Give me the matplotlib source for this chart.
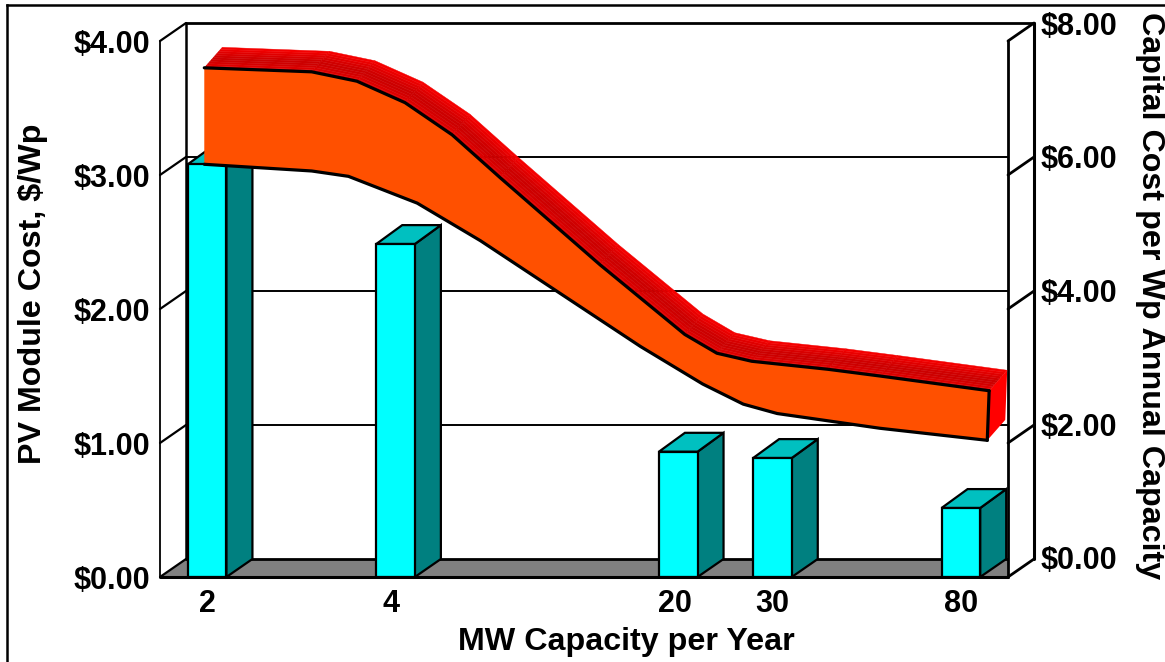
import matplotlib
matplotlib.use("Agg")
import matplotlib.pyplot as plt
from matplotlib.lines import Line2D

plt.rcParams['font.family'] = ['Liberation Sans', 'DejaVu Sans']
plt.rcParams['font.weight'] = 'bold'

W, H = 1165, 662

# nine category slots, only some of them are labelled
x_labels = ["2", "4", "20", "30", "80"]
x_label_pos = [0, 1.95, 4.97, 6, 8]
bar_pos = [0, 2, 5, 6, 8]
bar_vals = [3.08, 2.485, 0.935, 0.888, 0.515]

band_top_x = [-0.03, 1.11, 1.59, 2.10, 2.60, 3.11, 4.17, 5.07, 5.41, 5.78, 6.59, 7.14, 8.30]
band_top_y = [3.80, 3.77, 3.70, 3.54, 3.30, 2.98, 2.33, 1.81, 1.67, 1.61, 1.55, 1.50, 1.39]
band_low_x = [-0.03, 1.11, 1.50, 2.23, 2.90, 4.60, 5.26, 5.69, 6.05, 7.14, 8.28]
band_low_y = [3.08, 3.03, 2.99, 2.79, 2.51, 1.72, 1.44, 1.29, 1.22, 1.11, 1.02]

left_ticks = [0, 1, 2, 3, 4]
left_labels = ["$0.00", "$1.00", "$2.00", "$3.00", "$4.00"]
right_ticks = [0, 2, 4, 6, 8]
right_labels = ["$0.00", "$2.00", "$4.00", "$6.00", "$8.00"]

# depth of the fake 3d box, in data units
DX = 26 / 94.2
DY = 18 / 134.0
# the ribbon is not as deep as the box
RDX = 18 / 94.2
RDY = 20.5 / 134.0
BAR_W = 0.41
XMIN, XMAX = -0.5, 8.5
YMAX = 4

fig = plt.figure(figsize=(W / 100, H / 100), dpi=100)
ax = fig.add_axes([160 / W, (H - 577) / H, 848 / W, 536 / H])
ax.set_xlim(XMIN, XMAX)
ax.set_ylim(0, YMAX)
ax.patch.set_visible(False)
for s in ax.spines.values():
    s.set_visible(False)

ax.set_xticks(x_label_pos)
ax.set_xticklabels(x_labels, fontsize=22)
ax.set_yticks(left_ticks)
ax.set_yticklabels(left_labels, fontsize=22)
ax.tick_params(axis='x', length=0, pad=9)
ax.tick_params(axis='y', length=0, pad=7)

# second scale sits on the back plane of the box
ax2 = fig.add_axes([186 / W, (H - 558) / H, 848 / W, 535 / H])
ax2.set_xlim(XMIN, XMAX)
ax2.set_ylim(0, 8)
ax2.patch.set_visible(False)
for s in ax2.spines.values():
    s.set_visible(False)
ax2.set_xticks([])
ax2.yaxis.tick_right()
ax2.set_yticks(right_ticks)
ax2.set_yticklabels(right_labels, fontsize=22)
ax2.tick_params(axis='y', length=0, pad=5)


def line(xs, ys, lw=1.6, z=2, color="black"):
    ax.plot(xs, ys, color=color, lw=lw, zorder=z, clip_on=False, solid_capstyle='round')


def poly(xs, ys, color, z, edge="none", lw=0):
    ax.fill(xs, ys, facecolor=color, edgecolor=edge, lw=lw, zorder=z, clip_on=False)


# floor
poly([XMIN, XMIN + DX, XMAX + DX, XMAX], [0, DY, DY, 0], "#808080", 1)
line([XMIN + DX, XMAX], [DY, DY], lw=2.0, z=2)
line([XMIN, XMAX], [0, 0], lw=2.2, z=6)

# back wall and grid
line([XMIN + DX, XMAX + DX], [YMAX + DY, YMAX + DY], lw=2.0, z=2)
line([XMIN + DX, XMIN + DX], [DY, YMAX + DY], lw=1.8, z=2)
for v in left_ticks[1:-1]:
    line([XMIN + DX, XMAX], [v + DY, v + DY], lw=1.4, z=2)

# left side panel
line([XMIN, XMIN], [0, YMAX], lw=1.3, z=2)
for v in left_ticks:
    line([XMIN, XMIN + DX], [v, v + DY], lw=1.6, z=2)

# bars
for pos, val in zip(bar_pos, bar_vals):
    l = pos - BAR_W / 2
    r = pos + BAR_W / 2
    poly([r, r + DX, r + DX, r], [0, DY, val + DY * 1.05, val], "#008080", 3, "black", 1.6)
    poly([l, l + DX, r + DX, r], [val, val + DY * 1.05, val + DY * 1.05, val], "#00C0C0", 3, "black", 1.6)
ax.bar(bar_pos, bar_vals, BAR_W, color="#00FFFF", edgecolor="black", lw=1.6, zorder=4, clip_on=False)

# right side panel, drawn above the grid lines and bars
poly([XMAX, XMAX + DX, XMAX + DX, XMAX], [0, DY, YMAX + DY, YMAX], "white", 5)
line([XMAX, XMAX], [0, YMAX], lw=2.0, z=6)
line([XMAX + DX, XMAX + DX], [DY, YMAX + DY], lw=2.2, z=6)
for v in left_ticks:
    line([XMAX, XMAX + DX], [v, v + DY], lw=2.0, z=6)

# ribbon: top face is a few strips of red, the real one is dithered
strips = ["#e40000", "#dc0000", "#d40000", "#ce0000", "#cc0000",
          "#d00000", "#d80000", "#e00000", "#ea0000", "#f40000"]
n = len(strips)
for i in range(len(band_top_x) - 1):
    x0, x1 = band_top_x[i], band_top_x[i + 1]
    y0, y1 = band_top_y[i], band_top_y[i + 1]
    for k, c in enumerate(strips):
        a = k / n
        b = (k + 1) / n
        poly([x0 + a * RDX, x0 + b * RDX, x1 + b * RDX, x1 + a * RDX],
             [y0 + a * RDY, y0 + b * RDY, y1 + b * RDY, y1 + a * RDY], c, 7, c, 0.3)

# end of the ribbon
poly([band_top_x[-1], band_top_x[-1] + RDX, band_low_x[-1] + RDX, band_low_x[-1]],
     [band_top_y[-1], band_top_y[-1] + RDY, band_low_y[-1] + RDY, band_low_y[-1]], "#ff0000", 7)

# front of the ribbon
poly(band_top_x + band_low_x[::-1], band_top_y + band_low_y[::-1], "#ff5000", 8)
line(band_top_x, band_top_y, lw=2.3, z=9)
line(band_low_x, band_low_y, lw=2.3, z=9)
line([band_top_x[-1], band_low_x[-1]], [band_top_y[-1], band_low_y[-1]], lw=2.3, z=9)

# outer frame of the slide, cut off at the picture edges
fig.add_artist(Line2D([7 / W, 7 / W], [0, 1 - 5 / H], color="black", lw=1.8))
fig.add_artist(Line2D([7 / W, 1], [1 - 5 / H, 1 - 5 / H], color="black", lw=1.8))

fig.text(626 / W, 1 - 642 / H, "MW Capacity per Year", fontsize=23.2, ha='center', va='center')
fig.text(33 / W, 1 - 294 / H, "PV Module Cost, $/Wp", fontsize=23.2, rotation=90, ha='center', va='center')
fig.text(1150 / W, 1 - 296 / H, "Capital Cost per Wp Annual Capacity", fontsize=23.2, rotation=270, ha='center', va='center')

fig.savefig("out.png", dpi=100)
